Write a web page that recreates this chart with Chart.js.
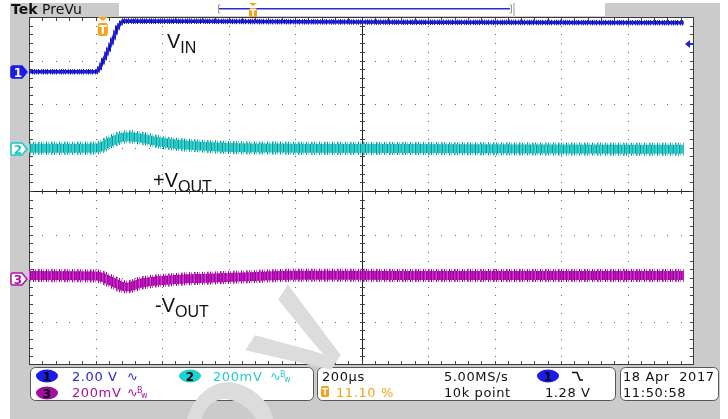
<!DOCTYPE html>
<html>
<head>
<meta charset="utf-8">
<script src="https://cdn.jsdelivr.net/npm/chart.js@4.4.0/dist/chart.umd.min.js"></script>
<style>
  html, body { margin: 0; padding: 0; background: #fff; }
  canvas { display: block; }
</style>
</head>
<body>
<canvas id="scope" width="728" height="419"></canvas>
<script>
// horizontal: µs relative to trigger, 200 µs/div, trigger at 11.10 % of record
const timeStart = -222;
const timeDiv = 200;

// CH1 - VIN (volts)
const ch1Time  = [-222, -18, -9, 21, 45, 60, 292, 592, 953, 1747];
const ch1Volts = [0, 0, 0.18, 1.15, 2.07, 2.34, 2.32, 2.30, 2.28, 2.25];

// CH2 - +VOUT (mV)
const ch2Time = [-222, -18, 21, 60, 81, 111, 171, 253, 343, 442, 571, 893, 1344, 1747];
const ch2mV   = [-4, -2, 25, 48, 50, 44, 25, 11, 2, -2, -3, -5, -7, -8];

// CH3 - -VOUT (mV)
const ch3Time = [-222, -18, 21, 60, 75, 111, 141, 200, 292, 442, 571, 893, 1344, 1747];
const ch3mV   = [11, 9, -12, -39, -41, -25, -17, -9, -2, 6, 13, 12, 12, 11];

// channel settings: units per div and vertical position (div)
const ch1Scale = 2.0, ch1Pos = 2.74;
const ch2Scale = 200, ch2Pos = 1.0;
const ch3Scale = 200, ch3Pos = -2.0;
const trigLevel = 1.28;

const canvas = document.getElementById('scope');
const c2d = canvas.getContext('2d');

function toPoints(times, vals, scale, pos) {
    return times.map((t, i) => ({ x: t, y: pos + vals[i] / scale }));
}

// vertical stripe texture so the thick traces look noisy
function stripes(cols) {
    const c = document.createElement('canvas');
    c.width = cols.length; c.height = 1;
    const g = c.getContext('2d');
    cols.forEach((col, i) => { if (col) { g.fillStyle = col; g.fillRect(i, 0, 1, 1); } });
    return c2d.createPattern(c, 'repeat');
}

const blueCore = stripes(['#1c1cd4', '#1414c0', '#2a2ae0', '#1c1cd4', '#10109a', '#1c1cd4', '#2424dc']);
const blueOuter = stripes(['#5050e8', null, '#18189a', null, null, '#4040e0', null, '#20208c', null]);
const cyanCore = stripes(['#2ccccc', '#26c6c6', '#139494', '#3ad4d4', '#2acaca', '#1eacac', '#2ccccc', '#44d8d8', '#169494', '#2acaca', '#24c0c0']);
const cyanOuter = stripes(['#60dcdc', null, '#1a9090', null, '#6ae0e0', null, null, '#138888', null, '#58d8d8', null, null, '#2aa0a0']);
const magCore = stripes(['#c414c4', '#b80cb8', '#800880', '#cc30cc', '#c010c0', '#9a0a9a', '#c414c4', '#d040d0', '#860886', '#c010c0', '#b000b0']);
const magOuter = stripes(['#d860d8', null, '#8a108a', null, '#e070e0', null, null, '#800880', null, '#d050d0', null, null, '#a020a0']);

const ch1Pts = toPoints(ch1Time, ch1Volts, ch1Scale, ch1Pos);
const ch2Pts = toPoints(ch2Time, ch2mV, ch2Scale, ch2Pos);
const ch3Pts = toPoints(ch3Time, ch3mV, ch3Scale, ch3Pos);

const graticule = {
    id: 'graticule',
    beforeDraw(chart) {
        const { ctx, chartArea: a } = chart;
        const W = chart.width, H = chart.height;
        ctx.save();
        ctx.fillStyle = '#fff';
        ctx.fillRect(0, 0, W, H);
        ctx.fillStyle = '#cbcbcb';
        ctx.fillRect(10, 3, 710, H - 3);
        ctx.fillStyle = '#fff';
        ctx.fillRect(a.left, a.top, a.right - a.left, a.bottom - a.top);

        const dx = (a.right - a.left) / 10, dy = (a.bottom - a.top) / 8;
        const cx = Math.round(a.left + 5 * dx), cy = Math.round(a.top + 4 * dy);

        // dotted divisions
        ctx.fillStyle = '#666';
        for (let i = 1; i < 10; i++) {
            if (i === 5) continue;
            const x = Math.round(a.left + i * dx);
            for (let k = 1; k < 40; k++) ctx.fillRect(x, Math.round(a.top + k * dy / 5), 1, 1);
        }
        for (let j = 1; j < 8; j++) {
            if (j === 4) continue;
            const y = Math.round(a.top + j * dy);
            for (let k = 1; k < 50; k++) ctx.fillRect(Math.round(a.left + k * dx / 5), y, 1, 1);
        }

        // centre cross + minor ticks on centre lines and frame
        ctx.fillStyle = '#222';
        ctx.fillRect(cx, a.top, 1, a.bottom - a.top);
        ctx.fillRect(a.left, cy, a.right - a.left, 1);
        ctx.fillStyle = '#444';
        for (let k = 1; k < 50; k++) {
            const x = Math.round(a.left + k * dx / 5);
            ctx.fillRect(x, cy - 2, 1, 5);
            ctx.fillRect(x, a.top, 1, 4);
            ctx.fillRect(x, a.bottom - 4, 1, 4);
        }
        for (let k = 1; k < 40; k++) {
            const y = Math.round(a.top + k * dy / 5);
            ctx.fillRect(cx - 2, y, 5, 1);
            ctx.fillRect(a.left, y, 4, 1);
            ctx.fillRect(a.right - 4, y, 4, 1);
        }
        ctx.strokeStyle = '#3a3a3a';
        ctx.lineWidth = 1;
        ctx.strokeRect(a.left + 0.5, a.top + 0.5, a.right - a.left - 1, a.bottom - a.top - 1);
        ctx.restore();
    }
};

function subLabel(ctx, x, y, main, sub) {
    ctx.font = '20px "Liberation Sans", Arial, sans-serif';
    ctx.fillText(main, x, y);
    const w = ctx.measureText(main).width;
    ctx.font = '16px "Liberation Sans", Arial, sans-serif';
    ctx.fillText(sub, x + w, y + 5);
}

function tag(ctx, y, fill, stroke, txtColor, label) {
    ctx.beginPath();
    ctx.moveTo(13, y - 6);
    ctx.lineTo(22, y - 6);
    ctx.lineTo(27, y);
    ctx.lineTo(22, y + 6);
    ctx.lineTo(13, y + 6);
    ctx.quadraticCurveTo(11, y + 6, 11, y + 4);
    ctx.lineTo(11, y - 4);
    ctx.quadraticCurveTo(11, y - 6, 13, y - 6);
    ctx.closePath();
    ctx.fillStyle = fill;
    ctx.fill();
    ctx.lineWidth = 1.5;
    ctx.strokeStyle = stroke;
    ctx.stroke();
    ctx.fillStyle = txtColor;
    ctx.font = 'bold 12px "DejaVu Sans", sans-serif';
    ctx.textAlign = 'center';
    ctx.fillText(label, 18, y + 4.5);
    ctx.textAlign = 'left';
}

function trigT(ctx, x, top, big) {
    const w = big ? 10 : 8, tri = big ? 4 : 3, h = big ? 13 : 9;
    ctx.fillStyle = '#f7a21b';
    ctx.beginPath();
    ctx.moveTo(x - w / 2, top);
    ctx.lineTo(x + w / 2, top);
    ctx.lineTo(x, top + tri);
    ctx.closePath();
    ctx.fill();
    ctx.beginPath();
    ctx.roundRect(x - w / 2, top + tri + 2, w, h, 2);
    ctx.fill();
    ctx.fillStyle = '#fff';
    ctx.font = (big ? 'bold 12px' : 'bold 9px') + ' "DejaVu Sans", sans-serif';
    ctx.textAlign = 'center';
    ctx.fillText('T', x, top + tri + 2 + h - (big ? 2 : 1.5));
    ctx.textAlign = 'left';
}

function badge(ctx, cx, cy, fill, label) {
    ctx.beginPath();
    ctx.ellipse(cx, cy, 11, 6.5, 0, 0, Math.PI * 2);
    ctx.fillStyle = fill;
    ctx.fill();
    ctx.fillStyle = '#000';
    ctx.font = 'bold 12px "DejaVu Sans", sans-serif';
    ctx.textAlign = 'center';
    ctx.fillText(label, cx, cy + 4.5);
    ctx.textAlign = 'left';
}

function bwSym(ctx, x, y, color, bw) {
    ctx.fillStyle = color;
    ctx.font = '13px "DejaVu Sans", sans-serif';
    ctx.fillText('\u223F', x, y);
    if (bw) {
        ctx.font = '8px "DejaVu Sans", sans-serif';
        ctx.fillText('B', x + 10, y - 4);
        ctx.fillText('w', x + 14, y + 1);
    }
}

function infoText(ctx, text, x, y, color) {
    ctx.fillStyle = color;
    ctx.font = '13px "DejaVu Sans", sans-serif';
    ctx.letterSpacing = '0.6px';
    ctx.fillText(text, x, y);
    ctx.letterSpacing = '0px';
}

function panel(ctx, x1, x2) {
    ctx.beginPath();
    ctx.roundRect(x1 + 0.5, 367.5, x2 - x1, 33, 5);
    ctx.fillStyle = '#fff';
    ctx.fill();
    ctx.strokeStyle = '#555';
    ctx.lineWidth = 1;
    ctx.stroke();
}

const overlay = {
    id: 'overlay',
    afterDraw(chart) {
        const { ctx, chartArea: a, scales } = chart;
        const y = scales.y, x = scales.x;
        ctx.save();

        // trace names
        ctx.fillStyle = '#111';
        subLabel(ctx, 167, 48, 'V', 'IN');
        subLabel(ctx, 153, 187, '+V', 'OUT');
        subLabel(ctx, 155, 312, '-V', 'OUT');

        // channel ground markers
        tag(ctx, Math.round(y.getPixelForValue(ch1Pos)), '#1c1ce6', '#1c1ce6', '#fff', '1');
        tag(ctx, Math.round(y.getPixelForValue(ch2Pos)) + 1, '#fff', '#18c8c8', '#18c8c8', '2');
        tag(ctx, Math.round(y.getPixelForValue(ch3Pos)) + 1, '#fff', '#b010b0', '#b010b0', '3');

        // trigger position and level
        trigT(ctx, x.getPixelForValue(0), a.top, true);
        const ty = y.getPixelForValue(ch1Pos + trigLevel / ch1Scale);
        ctx.fillStyle = '#2020e0';
        ctx.beginPath();
        ctx.moveTo(a.right - 9, ty);
        ctx.lineTo(a.right - 4, ty - 4);
        ctx.lineTo(a.right - 4, ty + 4);
        ctx.closePath();
        ctx.fill();
        ctx.fillRect(a.right - 4, ty - 0.5, 4, 1.5);

        // top bar
        ctx.fillStyle = '#111';
        ctx.font = 'bold 14px "DejaVu Sans", sans-serif';
        ctx.fillText('Tek', 11, 14);
        ctx.font = '14px "DejaVu Sans", sans-serif';
        ctx.fillText('PreVu', 42, 14);
        ctx.fillStyle = '#fff';
        ctx.fillRect(119, 3, 394, 13);
        ctx.fillRect(515, 3, 90, 13);
        ctx.fillStyle = '#2a2ad8';
        ctx.fillRect(219, 8, 291, 1.5);
        ctx.strokeStyle = '#999';
        ctx.lineWidth = 1;
        ctx.beginPath();
        ctx.moveTo(220.5, 5); ctx.lineTo(218.5, 5); ctx.lineTo(218.5, 13); ctx.lineTo(220.5, 13);
        ctx.moveTo(509.5, 5); ctx.lineTo(511.5, 5); ctx.lineTo(511.5, 13); ctx.lineTo(509.5, 13);
        ctx.stroke();
        trigT(ctx, 253, 3, false);

        // info panels
        panel(ctx, 30, 313);
        panel(ctx, 317, 615);
        panel(ctx, 620, 718);

        // faint diagonal watermark, behind the panel text
        ctx.save();
        ctx.translate(314, 396);
        ctx.rotate(-57 * Math.PI / 180);
        ctx.fillStyle = '#dcdcdc';
        ctx.font = 'bold 120px "Liberation Sans", Arial, sans-serif';
        ctx.textAlign = 'left';
        ctx.fillText('V', 0, 0);
        ctx.textAlign = 'right';
        ctx.fillText('O', -24, -13);
        ctx.restore();

        badge(ctx, 47, 376, '#1c1ce6', '1');
        infoText(ctx, '2.00 V', 72, 381, '#2424e0');
        bwSym(ctx, 127, 381, '#2424e0', false);
        badge(ctx, 190, 376, '#1ed2d2', '2');
        infoText(ctx, '200mV', 213, 381, '#22cccc');
        bwSym(ctx, 270, 381, '#22cccc', true);
        badge(ctx, 47, 393, '#a010a0', '3');
        infoText(ctx, '200mV', 72, 397, '#a414a4');
        bwSym(ctx, 127, 397, '#a414a4', true);

        infoText(ctx, '200\u00B5s', 322, 381, '#111');
        infoText(ctx, '5.00MS/s', 444, 381, '#111');
        badge(ctx, 548, 376, '#1c1ce6', '1');
        ctx.strokeStyle = '#111';
        ctx.lineWidth = 1.6;
        ctx.beginPath();
        ctx.moveTo(572, 372.5); ctx.lineTo(577, 372.5); ctx.lineTo(580, 380); ctx.lineTo(583, 380);
        ctx.stroke();
        ctx.fillStyle = '#f7a21b';
        ctx.beginPath();
        ctx.roundRect(321, 386, 8, 11, 1.5);
        ctx.fill();
        ctx.fillStyle = '#fff';
        ctx.font = 'bold 9px "DejaVu Sans", sans-serif';
        ctx.fillText('T', 322, 395);
        infoText(ctx, '11.10 %', 336, 397, '#f7a21b');
        infoText(ctx, '10k point', 444, 397, '#111');
        infoText(ctx, '1.28 V', 545, 397, '#111');

        infoText(ctx, '18 Apr  2017', 623, 381, '#111');
        infoText(ctx, '11:50:58', 623, 397, '#111');

        ctx.restore();
    }
};

new Chart(canvas, {
    type: 'line',
    data: {
        datasets: [
            { data: ch1Pts, borderColor: blueCore, borderWidth: 3.5, order: 1 },
            { data: ch1Pts, borderColor: blueOuter, borderWidth: 5.5, order: 2 },
            { data: ch2Pts, borderColor: cyanCore, borderWidth: 9, cubicInterpolationMode: 'monotone', order: 1 },
            { data: ch2Pts, borderColor: cyanOuter, borderWidth: 13, cubicInterpolationMode: 'monotone', order: 2 },
            { data: ch3Pts, borderColor: magCore, borderWidth: 9, cubicInterpolationMode: 'monotone', order: 1 },
            { data: ch3Pts, borderColor: magOuter, borderWidth: 13, cubicInterpolationMode: 'monotone', order: 2 }
        ]
    },
    options: {
        responsive: false,
        animation: false,
        devicePixelRatio: 1,
        events: [],
        layout: { padding: { left: 29, right: 34, top: 17, bottom: 54 } },
        elements: {
            point: { radius: 0 },
            line: { borderJoinStyle: 'round', fill: false }
        },
        plugins: {
            legend: { display: false },
            tooltip: { enabled: false }
        },
        scales: {
            x: { type: 'linear', min: timeStart, max: timeStart + 10 * timeDiv, display: false },
            y: { type: 'linear', min: -4, max: 4, display: false }
        }
    },
    plugins: [graticule, overlay]
});
</script>
</body>
</html>
